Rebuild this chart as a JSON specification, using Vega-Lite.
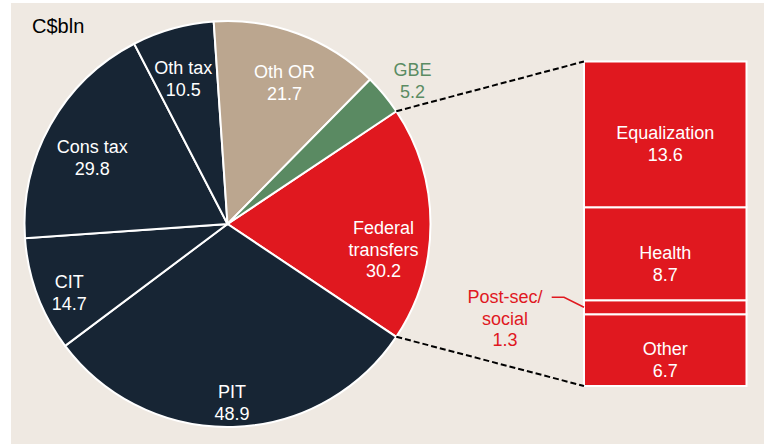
{
  "$schema": "https://vega.github.io/schema/vega-lite/v6.json",
  "width": 764,
  "height": 444,
  "autosize": {"type": "fit", "contains": "padding"},
  "padding": {"left": 11, "top": 3, "right": 0, "bottom": 0},
  "background": "#ffffff",
  "config": {
    "view": {"fill": "#efe9e2", "stroke": null},
    "text": {"font": "Liberation Sans"}
  },
  "datasets": {
    "pie": [
      {"name": "Federal transfers", "value": 30.2, "order": 1},
      {"name": "PIT", "value": 48.9, "order": 2},
      {"name": "CIT", "value": 14.7, "order": 3},
      {"name": "Cons tax", "value": 29.8, "order": 4},
      {"name": "Oth tax", "value": 10.5, "order": 5},
      {"name": "Oth OR", "value": 21.7, "order": 6},
      {"name": "GBE", "value": 5.2, "order": 7}
    ],
    "bar": [
      {"name": "Other", "value": 6.7, "order": 1},
      {"name": "Post-sec/social", "value": 1.3, "order": 2},
      {"name": "Health", "value": 8.7, "order": 3},
      {"name": "Equalization", "value": 13.6, "order": 4}
    ],
    "connectors": [
      {"x": 35.975, "y": 25.656, "x2": 53.501, "y2": 30.3},
      {"x": 35.975, "y": 4.596, "x2": 53.501, "y2": 0}
    ],
    "leader": [
      {"x": 50.485, "y": 8.28, "i": 0},
      {"x": 51.634, "y": 8.28, "i": 1},
      {"x": 53.501, "y": 7.35, "i": 2}
    ],
    "title": [{"text": "C$bln"}]
  },
  "layer": [
    {
      "data": {"name": "pie"},
      "transform": [
        {"stack": "value", "groupby": [], "sort": [{"field": "order", "order": "ascending"}], "as": ["t0", "t1"]},
        {"calculate": "(datum.t0 + datum.t1) / 2", "as": "tm"},
        {"calculate": "(datum.name === 'Federal transfers' ? 'Federal\\ntransfers' : datum.name) + '\\n' + format(datum.value, '.1f')", "as": "label"}
      ],
      "encoding": {
        "x": {"datum": 20.215, "type": "quantitative", "scale": {"domain": [0, 70.308], "nice": false, "zero": false}, "axis": null},
        "y": {"datum": 15.126, "type": "quantitative", "scale": {"domain": [-5.415, 35.761], "nice": false, "zero": false}, "axis": null}
      },
      "layer": [
        {
          "mark": {"type": "arc", "radius": 203, "stroke": "#ffffff", "strokeWidth": 2},
          "encoding": {
            "theta": {"field": "t0", "type": "quantitative", "stack": null, "scale": {"domain": [0, 161], "range": [0.981748, 7.264933]}},
            "theta2": {"field": "t1"},
            "color": {
              "field": "name",
              "type": "nominal",
              "scale": {
                "domain": ["Federal transfers", "PIT", "CIT", "Cons tax", "Oth tax", "Oth OR", "GBE"],
                "range": ["#e0181f", "#172534", "#172534", "#172534", "#172534", "#bba68f", "#5a8a62"]
              },
              "legend": null
            }
          }
        },
        {
          "transform": [{"filter": {"field": "name", "oneOf": ["PIT", "CIT"]}}],
          "mark": {"type": "text", "radius": 169, "fill": "#ffffff", "fontSize": 18, "lineBreak": "\n", "lineHeight": 22, "align": "center", "baseline": "middle"},
          "encoding": {
            "theta": {"field": "tm", "type": "quantitative", "stack": null, "scale": {"domain": [0, 161], "range": [0.981748, 7.264933]}},
            "text": {"field": "label"}
          }
        },
        {
          "transform": [{"filter": {"field": "name", "oneOf": ["Oth tax", "Oth OR"]}}],
          "mark": {"type": "text", "radius": 164, "fill": "#ffffff", "fontSize": 18, "lineBreak": "\n", "lineHeight": 22, "align": "center", "baseline": "middle", "dy": 3},
          "encoding": {
            "theta": {"field": "tm", "type": "quantitative", "stack": null, "scale": {"domain": [0, 161], "range": [0.981748, 7.264933]}},
            "text": {"field": "label"}
          }
        },
        {
          "transform": [{"filter": {"field": "name", "equal": "Cons tax"}}],
          "mark": {"type": "text", "radius": 155, "fill": "#ffffff", "fontSize": 18, "lineBreak": "\n", "lineHeight": 22, "align": "center", "baseline": "middle"},
          "encoding": {
            "theta": {"field": "tm", "type": "quantitative", "stack": null, "scale": {"domain": [0, 161], "range": [0.981748, 7.264933]}},
            "text": {"field": "label"}
          }
        },
        {
          "transform": [{"filter": {"field": "name", "equal": "Federal transfers"}}],
          "mark": {"type": "text", "radius": 156, "fill": "#ffffff", "fontSize": 18, "lineBreak": "\n", "lineHeight": 21.5, "align": "center", "baseline": "middle", "dy": 5},
          "encoding": {
            "theta": {"field": "tm", "type": "quantitative", "stack": null, "scale": {"domain": [0, 161], "range": [0.981748, 7.264933]}},
            "text": {"field": "label"}
          }
        },
        {
          "transform": [{"filter": {"field": "name", "equal": "GBE"}}],
          "mark": {"type": "text", "radius": 240, "fill": "#5b8c63", "fontSize": 18, "lineBreak": "\n", "lineHeight": 22, "align": "center", "baseline": "middle"},
          "encoding": {
            "theta": {"field": "tm", "type": "quantitative", "stack": null, "scale": {"domain": [0, 161], "range": [0.981748, 7.264933]}},
            "text": {"field": "label"}
          }
        }
      ]
    },
    {
      "data": {"name": "bar"},
      "transform": [
        {"stack": "value", "groupby": [], "sort": [{"field": "order", "order": "ascending"}], "as": ["b0", "b1"]},
        {"calculate": "(datum.b0 + datum.b1) / 2", "as": "bm"},
        {"calculate": "replace(datum.name, '/', '/\\n') + '\\n' + format(datum.value, '.1f')", "as": "label"}
      ],
      "layer": [
        {
          "mark": {"type": "rect", "fill": "#e0181f", "stroke": "#ffffff", "strokeWidth": 2},
          "encoding": {
            "x": {"datum": 53.501, "type": "quantitative", "scale": {"domain": [0, 70.308], "nice": false, "zero": false}, "axis": null},
            "x2": {"datum": 68.674},
            "y": {"field": "b0", "type": "quantitative", "scale": {"domain": [-5.415, 35.761], "nice": false, "zero": false}, "axis": null},
            "y2": {"field": "b1"}
          }
        },
        {
          "transform": [{"filter": "datum.name !== 'Post-sec/social'"}],
          "mark": {"type": "text", "fill": "#ffffff", "fontSize": 18, "lineBreak": "\n", "lineHeight": 22, "align": "center", "baseline": "middle"},
          "encoding": {
            "x": {"datum": 61.088, "type": "quantitative", "axis": null},
            "y": {"field": "bm", "type": "quantitative", "axis": null},
            "text": {"field": "label"}
          }
        },
        {
          "transform": [{"filter": "datum.name === 'Post-sec/social'"}],
          "mark": {"type": "text", "fill": "#e0181f", "fontSize": 18, "lineBreak": "\n", "lineHeight": 21.5, "align": "center", "baseline": "middle", "dy": -9},
          "encoding": {
            "x": {"datum": 46.125, "type": "quantitative", "axis": null},
            "y": {"field": "bm", "type": "quantitative", "axis": null},
            "text": {"field": "label"}
          }
        }
      ]
    },
    {
      "data": {"name": "connectors"},
      "mark": {"type": "rule", "stroke": "#000000", "strokeWidth": 2, "strokeDash": [6, 3]},
      "encoding": {
        "x": {"field": "x", "type": "quantitative", "axis": null},
        "y": {"field": "y", "type": "quantitative", "axis": null},
        "x2": {"field": "x2"},
        "y2": {"field": "y2"}
      }
    },
    {
      "data": {"name": "leader"},
      "mark": {"type": "line", "stroke": "#e0181f", "strokeWidth": 1.5},
      "encoding": {
        "x": {"field": "x", "type": "quantitative", "axis": null},
        "y": {"field": "y", "type": "quantitative", "axis": null},
        "order": {"field": "i"}
      }
    },
    {
      "data": {"name": "title"},
      "mark": {"type": "text", "align": "left", "baseline": "alphabetic", "fontSize": 20, "fill": "#000000"},
      "encoding": {
        "x": {"datum": 1.961, "type": "quantitative", "axis": null},
        "y": {"datum": 32.96, "type": "quantitative", "axis": null},
        "text": {"field": "text"}
      }
    }
  ]
}
